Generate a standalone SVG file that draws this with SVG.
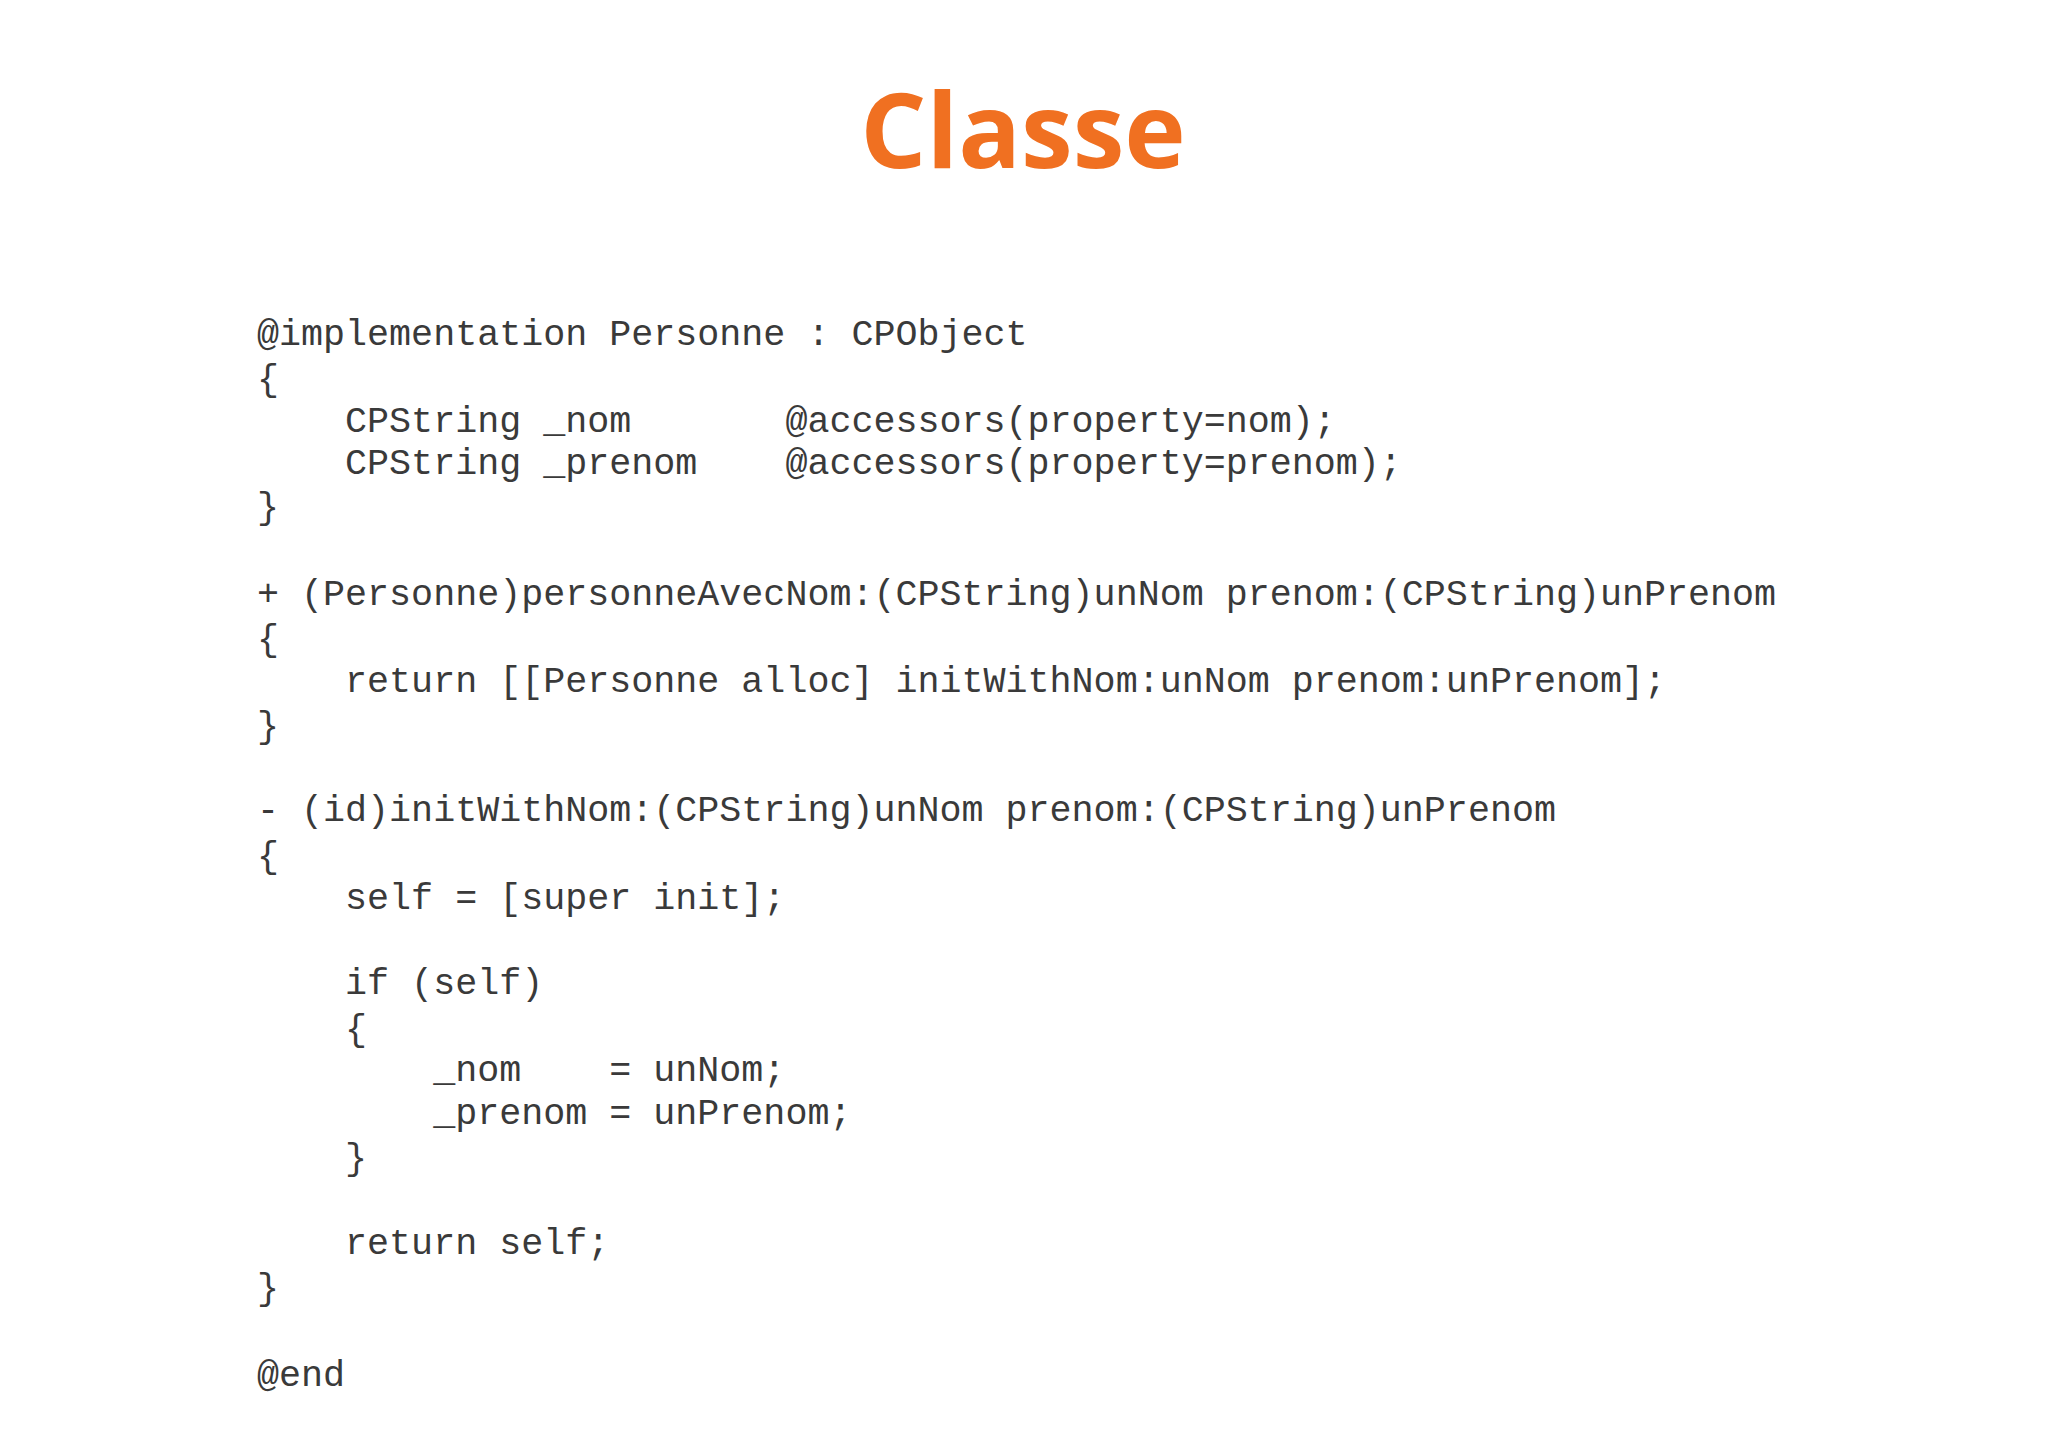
<svg xmlns="http://www.w3.org/2000/svg" width="2048" height="1447" viewBox="0 0 2048 1447">
<style>
.t{font-family:"Open Sans","Noto Sans",sans-serif;font-weight:bold;font-size:104px;fill:#F07021}
.c{font-family:"Liberation Mono","Courier New",monospace;font-size:36.7px;fill:#3a3a3a;white-space:pre}
</style>
<rect width="2048" height="1447" fill="#ffffff"/>
<text class="t" x="1023" y="168" text-anchor="middle">Classe</text>
<g id="code" xml:space="preserve">
<text class="c" x="257" y="345">@implementation Personne : CPObject</text>
<text class="c" x="257" y="390">{</text>
<text class="c" x="257" y="432">    CPString _nom       @accessors(property=nom);</text>
<text class="c" x="257" y="474">    CPString _prenom    @accessors(property=prenom);</text>
<text class="c" x="257" y="518">}</text>
<text class="c" x="257" y="605">+ (Personne)personneAvecNom:(CPString)unNom prenom:(CPString)unPrenom</text>
<text class="c" x="257" y="650">{</text>
<text class="c" x="257" y="692">    return [[Personne alloc] initWithNom:unNom prenom:unPrenom];</text>
<text class="c" x="257" y="737">}</text>
<text class="c" x="257" y="821">- (id)initWithNom:(CPString)unNom prenom:(CPString)unPrenom</text>
<text class="c" x="257" y="867">{</text>
<text class="c" x="257" y="909">    self = [super init];</text>
<text class="c" x="257" y="994">    if (self)</text>
<text class="c" x="257" y="1040">    {</text>
<text class="c" x="257" y="1081">        _nom    = unNom;</text>
<text class="c" x="257" y="1124">        _prenom = unPrenom;</text>
<text class="c" x="257" y="1169">    }</text>
<text class="c" x="257" y="1254">    return self;</text>
<text class="c" x="257" y="1299">}</text>
<text class="c" x="257" y="1386">@end</text>
</g>
</svg>
